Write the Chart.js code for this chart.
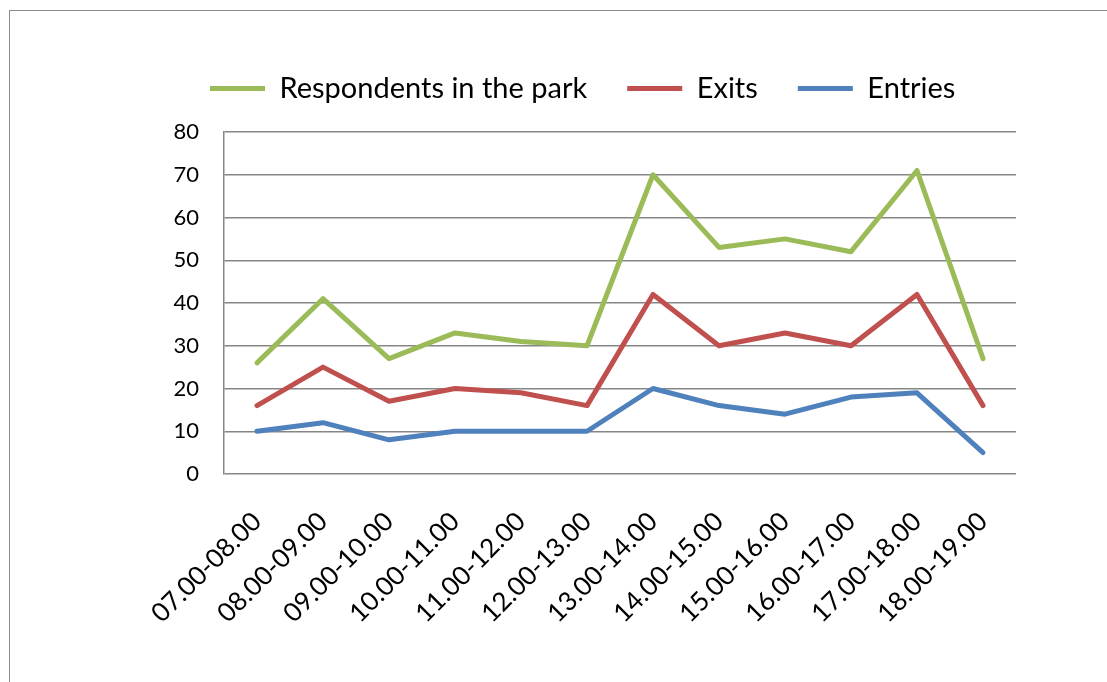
<!DOCTYPE html>
<html lang="en">
<head>
  <meta charset="UTF-8">
  <title>Respondents in the park</title>
  <style>
    html, body {
      margin: 0;
      padding: 0;
      width: 100%;
      height: 100%;
      background: #fff;
      overflow: hidden;
    }
    #frame {
      position: absolute;
      left: 9px;
      top: 10px;
      width: 1200px;
      height: 800px;
      border: 1px solid #8c8c8c;
    }
    #wrap {
      position: absolute;
      left: 0;
      top: 0;
      width: 1107px;
      height: 682px;
    }
  </style>
  <script src="https://cdn.jsdelivr.net/npm/chart.js"></script>
</head>
<body>
  <div id="frame"></div>
  <div id="wrap"><canvas id="myChart" width="1107" height="682"></canvas></div>
  <script>
    // categories and series
    const hours = ['07.00-08.00', '08.00-09.00', '09.00-10.00', '10.00-11.00', '11.00-12.00', '12.00-13.00',
                   '13.00-14.00', '14.00-15.00', '15.00-16.00', '16.00-17.00', '17.00-18.00', '18.00-19.00'];
    const inPark = [26, 41, 27, 33, 31, 30, 70, 53, 55, 52, 71, 27];
    const exits = [16, 25, 17, 20, 19, 16, 42, 30, 33, 30, 42, 16];
    const entries = [10, 12, 8, 10, 10, 10, 20, 16, 14, 18, 19, 5];
    const yTicks = [0, 10, 20, 30, 40, 50, 60, 70, 80];

    const fontName = 'Lato, "Open Sans", sans-serif';

    function line(label, data, color) {
      return {
        label: label,
        data: data,
        borderColor: color,
        backgroundColor: color,
        borderWidth: 5,
        borderCapStyle: 'round',
        borderJoinStyle: 'round',
        pointRadius: 0,
        tension: 0,
        fill: false
      };
    }

    // give the legend some more room below it, like the original
    const legendGap = {
      id: 'legendGap',
      afterInit(chart) {
        const fit = chart.legend.fit;
        chart.legend.fit = function () {
          fit.call(this);
          this.height += 19;
        };
      }
    };

    const ctx = document.getElementById('myChart').getContext('2d');
    const myChart = new Chart(ctx, {
      type: 'line',
      data: {
        labels: hours,
        datasets: [
          line('Respondents in the park', inPark, '#9BBB59'),
          line('Exits', exits, '#C0504D'),
          line('Entries', entries, '#4F81BD')
        ]
      },
      plugins: [legendGap],
      options: {
        responsive: false,
        devicePixelRatio: 1,
        animation: false,
        layout: { padding: { left: 170, right: 91, top: 34, bottom: 0 } },
        plugins: {
          tooltip: { enabled: false },
          legend: {
            position: 'top',
            align: 'start',
            labels: {
              usePointStyle: true,
              pointStyle: 'line',
              pointStyleWidth: 55,
              padding: 40,
              color: '#000',
              font: { family: fontName, size: 29 }
            }
          }
        },
        scales: {
          x: {
            offset: true,
            grid: { display: false },
            border: { display: false },
            ticks: {
              minRotation: 45,
              maxRotation: 45,
              color: '#000',
              padding: 24,
              font: { family: fontName, size: 26 }
            },
            afterFit: (scale) => { scale.height = 682 - 474; }
          },
          y: {
            min: 0,
            max: 80,
            afterBuildTicks: (scale) => { scale.ticks = yTicks.map(v => ({ value: v })); },
            grid: { color: '#868686', lineWidth: 1.5, drawTicks: false },
            border: { color: '#868686', width: 1.5 },
            ticks: {
              padding: 25,
              color: '#000',
              font: { family: fontName, size: 22 }
            },
            afterFit: (scale) => { scale.width = 224 - 170; }
          }
        }
      }
    });
  </script>
</body>
</html>
